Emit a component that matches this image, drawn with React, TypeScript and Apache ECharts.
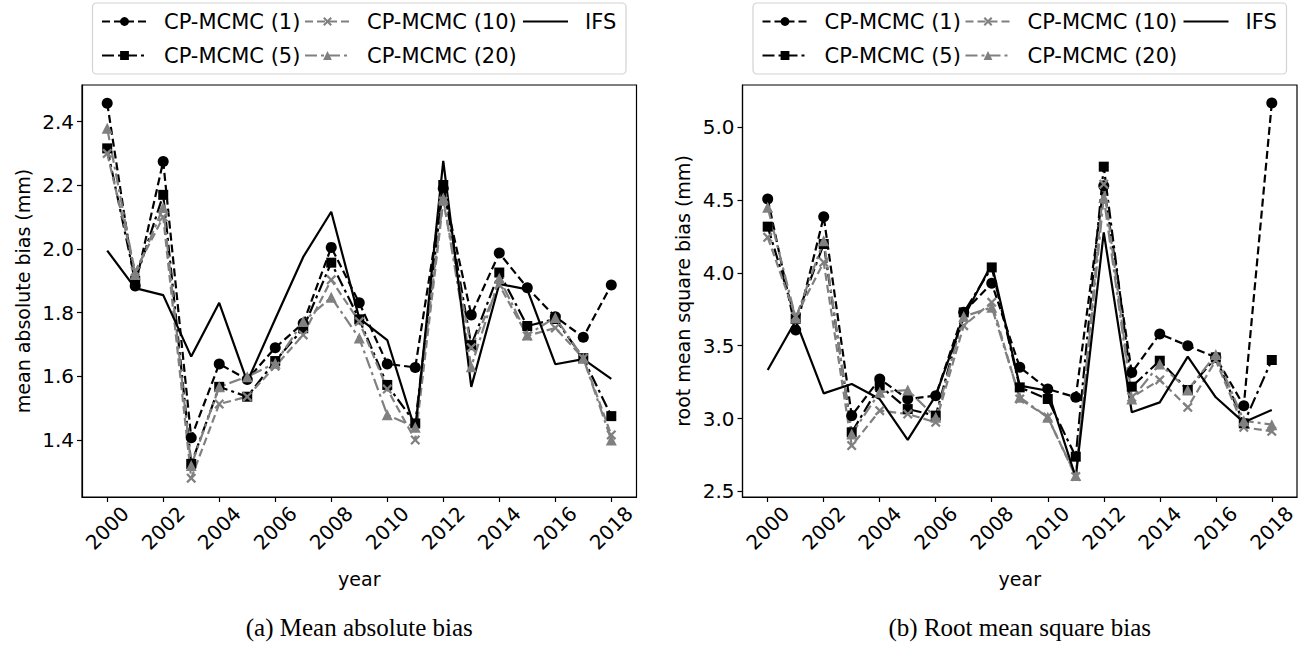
import React, { useEffect, useRef } from "react";
import * as echarts from "echarts";

// ---------------- data ----------------
const years = [2000, 2001, 2002, 2003, 2004, 2005, 2006, 2007, 2008, 2009, 2010, 2011, 2012, 2013, 2014, 2015, 2016, 2017, 2018];
const tickYears = [2000, 2002, 2004, 2006, 2008, 2010, 2012, 2014, 2016, 2018];
const mabTicks = [1.4, 1.6, 1.8, 2.0, 2.2, 2.4];
const rmsbTicks = [2.5, 3.0, 3.5, 4.0, 4.5, 5.0];
const seriesNames = ["CP-MCMC (1)", "CP-MCMC (5)", "CP-MCMC (10)", "CP-MCMC (20)", "IFS"];

// (a) mean absolute bias (mm)
const mabCP1 = [2.458, 1.884, 2.275, 1.407, 1.639, 1.59, 1.69, 1.767, 2.005, 1.831, 1.639, 1.628, 2.19, 1.793, 1.987, 1.878, 1.787, 1.723, 1.887];
const mabCP5 = [2.316, 1.9, 2.17, 1.325, 1.567, 1.536, 1.648, 1.751, 1.957, 1.779, 1.573, 1.452, 2.201, 1.698, 1.926, 1.758, 1.78, 1.657, 1.475];
const mabCP10 = [2.3, 1.93, 2.1, 1.28, 1.513, 1.536, 1.632, 1.73, 1.903, 1.772, 1.56, 1.4, 2.15, 1.69, 1.887, 1.727, 1.752, 1.657, 1.416];
const mabCP20 = [2.379, 1.92, 2.13, 1.32, 1.567, 1.599, 1.641, 1.772, 1.848, 1.72, 1.479, 1.44, 2.16, 1.63, 1.908, 1.73, 1.785, 1.657, 1.4];
const mabIFS = [1.995, 1.877, 1.855, 1.662, 1.831, 1.583, 1.78, 1.975, 2.117, 1.782, 1.714, 1.431, 2.277, 1.567, 1.89, 1.873, 1.638, 1.654, 1.592];

// (b) root mean square bias (mm)
const rmsbCP1 = [4.508, 3.608, 4.386, 3.02, 3.272, 3.134, 3.157, 3.73, 3.929, 3.352, 3.203, 3.146, 4.599, 3.317, 3.581, 3.5, 3.42, 3.088, 5.167];
const rmsbCP5 = [4.318, 3.684, 4.199, 2.905, 3.226, 3.065, 3.02, 3.729, 4.038, 3.214, 3.134, 2.738, 4.73, 3.219, 3.397, 3.196, 3.42, 2.967, 3.402];
const rmsbCP10 = [4.245, 3.7, 4.073, 2.814, 3.054, 3.031, 2.974, 3.638, 3.798, 3.134, 3.01, 2.601, 4.61, 3.146, 3.265, 3.077, 3.4, 2.94, 2.912];
const rmsbCP20 = [4.451, 3.69, 4.222, 2.894, 3.18, 3.196, 3.008, 3.7, 3.764, 3.146, 3.008, 2.608, 4.519, 3.134, 3.375, 3.196, 3.439, 2.985, 2.958];
const rmsbIFS = [3.333, 3.672, 3.173, 3.237, 3.134, 2.853, 3.157, 3.695, 4.061, 3.226, 3.191, 2.596, 4.279, 3.043, 3.111, 3.425, 3.146, 2.974, 3.059];

const captions = ["(a) Mean absolute bias", "(b) Root mean square bias"];
const yNames = ["mean absolute bias (mm)", "root mean square bias (mm)"];

// ---------------- styling ----------------
const FONT = "DejaVu Sans";
const X_SYMBOL = "path://M1.6,0L5,3.4L8.4,0L10,1.6L6.6,5L10,8.4L8.4,10L5,6.6L1.6,10L0,8.4L3.4,5L0,1.6Z";
const LINE_ICON = "path://M0,0L45,0L45,2.2L0,2.2Z";
const DASH = [8, 4];
const DASHDOT = [12, 4, 3, 4];
const styles = [
  { color: "#000000", dash: DASH, symbol: "circle", size: 11 },
  { color: "#000000", dash: DASHDOT, symbol: "rect", size: 10 },
  { color: "#808080", dash: DASH, symbol: X_SYMBOL, size: 10 },
  { color: "#808080", dash: DASHDOT, symbol: "triangle", size: 11 },
  { color: "#000000", dash: "solid", symbol: "none", size: 0 },
];

const GRID_W = 554.5;
const GRID_TOP = 85;
const GRID_H = 412;
const gridLefts = [82, 742.5];
const yRanges = [
  [1.221, 2.515],
  [2.461, 5.291],
];

export default function App() {
  const ref = useRef<HTMLDivElement>(null);

  useEffect(() => {
    if (!ref.current) return;
    const chart = echarts.init(ref.current, undefined, { renderer: "svg" });

    const panels = [
      [mabCP1, mabCP5, mabCP10, mabCP20, mabIFS],
      [rmsbCP1, rmsbCP5, rmsbCP10, rmsbCP20, rmsbIFS],
    ];
    const tickSets = [mabTicks, rmsbTicks];

    const series: any[] = [];
    panels.forEach((vals, p) => {
      vals.forEach((arr, i) => {
        const st = styles[i];
        series.push({
          type: "line",
          name: seriesNames[i],
          xAxisIndex: p,
          yAxisIndex: p,
          data: years.map((y, k) => [y, arr[k]]),
          symbol: st.symbol,
          symbolSize: st.size,
          showSymbol: st.symbol !== "none",
          showAllSymbol: true,
          lineStyle: { color: st.color, width: 2.2, type: st.dash },
          itemStyle: { color: st.color, borderWidth: 0 },
          emphasis: { disabled: true },
          z: 2,
        });
      });
    });

    const grid = gridLefts.map((l) => ({
      left: l,
      top: GRID_TOP,
      width: GRID_W,
      height: GRID_H,
      show: true,
      borderColor: "#000",
      borderWidth: 1.2,
      backgroundColor: "transparent",
      containLabel: false,
    }));

    const xAxis = gridLefts.map((_, p) => ({
      type: "value",
      gridIndex: p,
      min: 1999.1,
      max: 2018.9,
      name: "year",
      nameLocation: "middle",
      nameGap: 72,
      nameTextStyle: { fontFamily: FONT, fontSize: 19, color: "#000" },
      splitLine: { show: false },
      axisLine: { show: true, onZero: false, lineStyle: { color: "#000", width: 1.2 } },
      axisTick: { show: true, customValues: tickYears, length: 5, lineStyle: { color: "#000", width: 1.2 } },
      axisLabel: {
        customValues: tickYears,
        rotate: 45,
        align: "center",
        verticalAlign: "middle",
        margin: 31,
        fontFamily: FONT,
        fontSize: 20,
        color: "#000",
        formatter: (v: number) => String(Math.round(v)),
      },
    }));

    const yAxis = gridLefts.map((_, p) => ({
      type: "value",
      gridIndex: p,
      min: yRanges[p][0],
      max: yRanges[p][1],
      name: yNames[p],
      nameLocation: "middle",
      nameGap: 50,
      nameTextStyle: { fontFamily: FONT, fontSize: 19, color: "#000" },
      splitLine: { show: false },
      axisLine: { show: true, onZero: false, lineStyle: { color: "#000", width: 1.2 } },
      axisTick: { show: true, customValues: tickSets[p], length: 5, lineStyle: { color: "#000", width: 1.2 } },
      axisLabel: {
        customValues: tickSets[p],
        margin: 8,
        fontFamily: FONT,
        fontSize: 20,
        color: "#000",
        formatter: (v: number) => v.toFixed(1),
      },
    }));

    // legends: three columns (column-major like matplotlib ncol=3)
    const boxLefts = [92.5, 753];
    const colOffsets = [8.5, 211.5, 430.5];
    const cols: any[][] = [
      [seriesNames[0], seriesNames[1]],
      [seriesNames[2], seriesNames[3]],
      [{ name: seriesNames[4], icon: LINE_ICON, itemStyle: { color: "#000" } }],
    ];
    const legend: any[] = [];
    boxLefts.forEach((bl) => {
      cols.forEach((names, c) => {
        legend.push({
          data: names,
          orient: "vertical",
          left: bl + colOffsets[c],
          top: 10,
          padding: 0,
          itemWidth: 45,
          itemHeight: 11,
          itemGap: 11,
          selectedMode: false,
          textStyle: {
            fontFamily: FONT,
            fontSize: 21,
            color: "#000",
            lineHeight: 23,
            padding: [0, 0, 0, 12],
          },
        });
      });
    });

    const graphic: any[] = [];
    boxLefts.forEach((bl) => {
      graphic.push({
        type: "rect",
        shape: { x: bl, y: 3, width: 533.5, height: 71, r: 4 },
        style: { fill: "none", stroke: "#d3d3d3", lineWidth: 1.2 },
        silent: true,
        z: 0,
      });
    });
    captions.forEach((t, p) => {
      graphic.push({
        type: "text",
        x: gridLefts[p] + GRID_W / 2,
        y: 627,
        style: {
          text: t,
          fontFamily: "Liberation Serif",
          fontSize: 25,
          fill: "#000",
          align: "center",
          verticalAlign: "middle",
        },
        silent: true,
      });
    });

    chart.setOption({
      animation: false,
      backgroundColor: "#fff",
      grid,
      xAxis,
      yAxis,
      legend,
      series,
      graphic,
    });

    return () => chart.dispose();
  }, []);

  return (
    <div
      ref={ref}
      style={{ position: "absolute", left: 0, top: 0, width: 1304, height: 646 }}
    />
  );
}
